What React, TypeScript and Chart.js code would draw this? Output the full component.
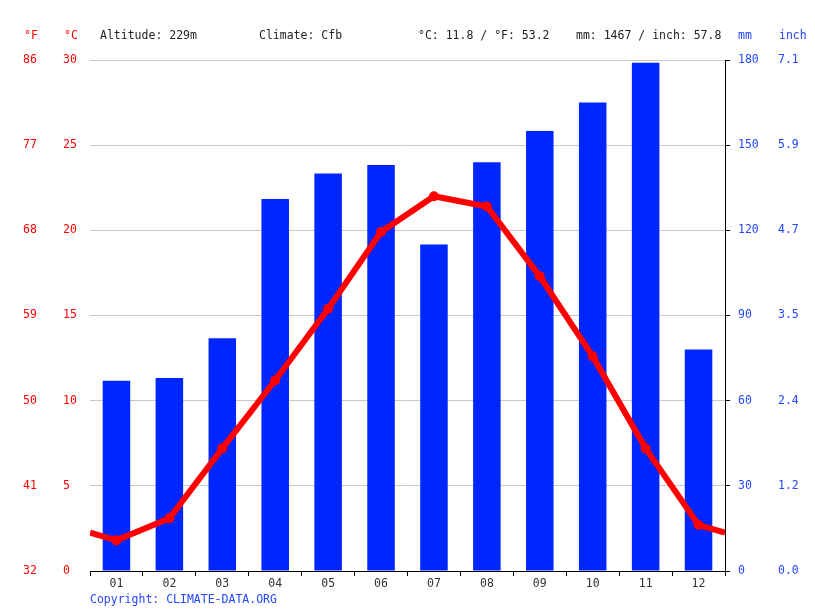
import { useEffect, useRef } from 'react'
import { Chart, registerables } from 'chart.js'

Chart.register(...registerables)

const months = ['01', '02', '03', '04', '05', '06', '07', '08', '09', '10', '11', '12']
const precipMm = [67, 68, 82, 131, 140, 143, 115, 144, 155, 165, 179, 78]
const tempC = [1.8, 3.1, 7.2, 11.2, 15.4, 19.9, 22.0, 21.4, 17.3, 12.6, 7.2, 2.7]

const headerLeft = [
  { text: 'Altitude: 229m', x: 100 },
  { text: 'Climate: Cfb', x: 259 },
  { text: '°C: 11.8 / °F: 53.2', x: 418 },
  { text: 'mm: 1467 / inch: 57.8', x: 576 },
]

const FONT = "'DejaVu Sans Mono', monospace"
const RED = '#ff0000'
const BLUE = '#0026ff'
const TICK_BLUE = '#2447ff'

export default function App() {
  const canvasRef = useRef<HTMLCanvasElement>(null)

  useEffect(() => {
    if (!canvasRef.current) return

    // line runs to the plot edges using the Dec/Jan average
    const edge = (tempC[0] + tempC[11]) / 2
    const linePoints = [
      { x: 0.5, y: edge },
      ...tempC.map((t, i) => ({ x: i + 1, y: t })),
      { x: 12.5, y: edge },
    ]

    const textPlugin = {
      id: 'texts',
      afterDraw(chart: any) {
        const { ctx, scales } = chart
        ctx.save()
        ctx.font = `11.5px ${FONT}`
        ctx.textBaseline = 'middle'
        ctx.textAlign = 'left'
        ctx.fillStyle = RED
        ctx.fillText('°F', scales.yF.left + 1, 36)
        ctx.fillText('°C', scales.yC.left + 1, 36)
        ctx.fillStyle = TICK_BLUE
        ctx.fillText('mm', scales.yMm.left + 13, 36)
        ctx.fillText('inch', scales.yIn.left + 1, 36)
        ctx.fillStyle = '#222'
        headerLeft.forEach(h => ctx.fillText(h.text, h.x, 36))
        ctx.fillStyle = TICK_BLUE
        ctx.fillText('Copyright: CLIMATE-DATA.ORG', 90, 600)
        ctx.restore()
      },
    }

    const tickFont = { family: FONT, size: 11.5 }

    const chart = new Chart(canvasRef.current, {
      type: 'bar',
      data: {
        labels: months,
        datasets: [
          {
            type: 'line',
            data: linePoints as any,
            xAxisID: 'xl',
            yAxisID: 'yC',
            borderColor: RED,
            backgroundColor: RED,
            borderWidth: 6,
            pointRadius: linePoints.map((_, i) => (i === 0 || i === linePoints.length - 1 ? 0 : 5)),
            pointBackgroundColor: RED,
            pointBorderWidth: 0,
            tension: 0,
            order: 0,
          } as any,
          {
            type: 'bar',
            data: precipMm,
            xAxisID: 'x',
            yAxisID: 'yMm',
            backgroundColor: BLUE,
            grouped: false,
            barPercentage: 0.52,
            categoryPercentage: 1,
            order: 1,
          },
        ],
      },
      options: {
        animation: false,
        responsive: true,
        maintainAspectRatio: false,
        layout: { padding: { top: 60, left: 23, right: 0, bottom: 0 } },
        plugins: {
          legend: { display: false },
          tooltip: { enabled: false },
        },
        scales: {
          x: {
            type: 'category',
            offset: true,
            grid: {
              display: true,
              offset: true,
              drawOnChartArea: false,
              drawTicks: true,
              tickLength: 5,
              color: '#000',
            },
            border: { display: true, color: '#000', width: 1 },
            ticks: { color: '#333', font: tickFont, padding: 1 },
            afterFit: (s: any) => { s.height = 40 },
          },
          xl: {
            type: 'linear',
            display: false,
            offset: false,
            grid: { offset: false },
            min: 0.5,
            max: 12.5,
          },
          yC: {
            type: 'linear',
            position: 'left',
            weight: 0,
            min: 0,
            max: 30,
            ticks: { stepSize: 5, color: RED, font: tickFont, crossAlign: 'far', padding: 0 },
            grid: { color: '#c8c8c8', drawTicks: false },
            border: { display: false },
            afterFit: (s: any) => { s.width = 27 },
          },
          yF: {
            type: 'linear',
            position: 'left',
            weight: 1,
            min: 0,
            max: 30,
            ticks: {
              stepSize: 5,
              color: RED,
              font: tickFont,
              crossAlign: 'far',
              padding: 0,
              callback: (v: any) => String(Math.round(Number(v) * 9 / 5 + 32)),
            },
            grid: { display: false, drawTicks: false },
            border: { display: false },
            afterFit: (s: any) => { s.width = 40 },
          },
          yMm: {
            type: 'linear',
            position: 'right',
            weight: 0,
            min: 0,
            max: 180,
            ticks: { stepSize: 30, color: TICK_BLUE, font: tickFont, padding: 8 },
            grid: { drawOnChartArea: false, drawTicks: true, tickLength: 5, color: '#000' },
            border: { display: true, color: '#000', width: 1 },
            afterFit: (s: any) => { s.width = 53 },
          },
          yIn: {
            type: 'linear',
            position: 'right',
            weight: 1,
            min: 0,
            max: 180,
            ticks: {
              stepSize: 30,
              color: TICK_BLUE,
              font: tickFont,
              padding: 0,
              callback: (v: any) => (Number(v) / 25.4).toFixed(1),
            },
            grid: { display: false, drawTicks: false },
            border: { display: false },
            afterFit: (s: any) => { s.width = 37 },
          },
        },
      } as any,
      plugins: [textPlugin],
    })

    return () => chart.destroy()
  }, [])

  return (
    <div style={{ position: 'fixed', left: 0, top: 0, width: 815, height: 611, background: '#fff' }}>
      <canvas ref={canvasRef} />
    </div>
  )
}
